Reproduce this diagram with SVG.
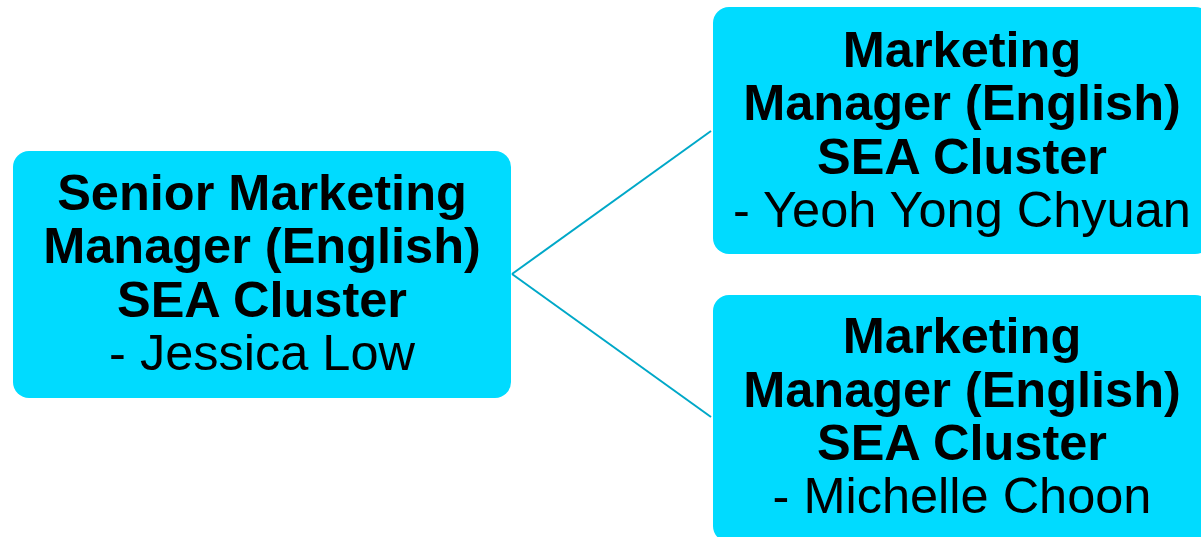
<svg xmlns="http://www.w3.org/2000/svg" width="1201" height="537" viewBox="0 0 1201 537">
<style>
.box{fill:#00DBFF;}
.t{font-family:"Liberation Sans",Arial,sans-serif;font-size:50.5px;fill:#000;text-anchor:middle;}
.b{font-weight:bold;}
.conn{stroke:#00A8C8;stroke-width:2;fill:none;}
</style>
<rect width="1201" height="537" fill="#fff"/>
<g id="connectors">
<line class="conn" x1="512" y1="274" x2="711" y2="131"/>
<line class="conn" x1="512" y1="274" x2="711" y2="417"/>
</g>
<g id="node-jessica">
<rect class="box" x="13" y="151" width="498" height="247" rx="16"/>
<text class="t b" x="262" y="210">Senior Marketing</text>
<text class="t b" x="262" y="263">Manager (English)</text>
<text class="t b" x="262" y="317">SEA Cluster</text>
<text class="t" x="262" y="370">- Jessica Low</text>
</g>
<g id="node-yeoh">
<rect class="box" x="713" y="7" width="498" height="247" rx="16"/>
<text class="t b" x="962" y="67">Marketing</text>
<text class="t b" x="962" y="120">Manager (English)</text>
<text class="t b" x="962" y="174">SEA Cluster</text>
<text class="t" x="962" y="227">- Yeoh Yong Chyuan</text>
</g>
<g id="node-michelle">
<rect class="box" x="713" y="295" width="498" height="247" rx="16"/>
<text class="t b" x="962" y="353">Marketing</text>
<text class="t b" x="962" y="407">Manager (English)</text>
<text class="t b" x="962" y="460">SEA Cluster</text>
<text class="t" x="962" y="513">- Michelle Choon</text>
</g>
</svg>
